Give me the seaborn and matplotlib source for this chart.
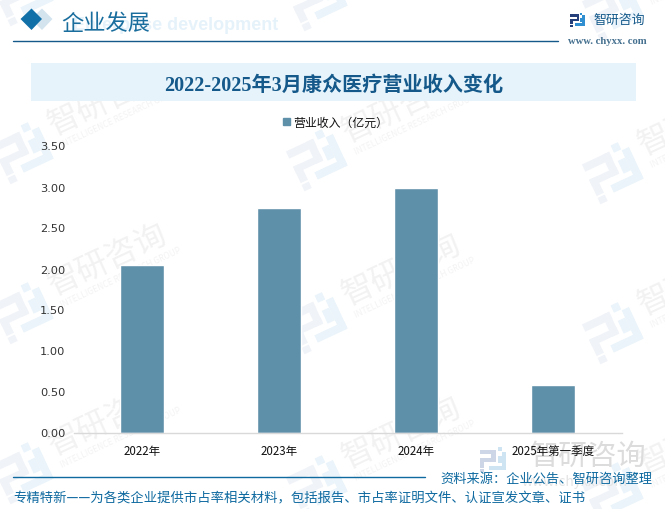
import matplotlib
matplotlib.use("Agg")
import matplotlib.pyplot as plt
import matplotlib.patches as mpatches
import numpy as np
import pandas as pd
import seaborn as sns

W, H = 665, 510

categories = ["2022年", "2023年", "2024年", "2025年第一季度"]
revenue = [2.04, 2.74, 2.98, 0.58]
y_ticks = [0, 0.5, 1.0, 1.5, 2.0, 2.5, 3.0, 3.5]
series_name = "营业收入（亿元）"
title = "2022-2025年3月康众医疗营业收入变化"
source = "资料来源：企业公告、智研咨询整理"
footer = "专精特新——为各类企业提供市占率相关材料，包括报告、市占率证明文件、认证宣发文章、证书"

BAR = "#5f90aa"
NAVY = "#14598a"
BLUE = "#0f6aa0"
CJK = ["Noto Sans CJK SC", "DejaVu Sans"]

# logo pieces as x, y, w, h on a 50 px square centred on 0
LOGO_LEFT = [(-25, -20, 30, 8), (-3, -20, 8, 24), (-25, -3, 30, 7), (-25, -3, 8, 18), (-25, 17, 8, 7)]
LOGO_RIGHT = [(9, -25, 8, 8), (17, -16, 8, 34), (-8, 11, 33, 8), (9, -8, 8, 14)]

sns.set_theme(style="white")
plt.rcParams["font.family"] = CJK

fig = plt.figure(figsize=(W / 100, H / 100), dpi=100, facecolor="white")

# page furniture, in pixel coordinates
bg = fig.add_axes([0, 0, 1, 1], zorder=0)
bg.set_xlim(0, W)
bg.set_ylim(H, 0)
bg.axis("off")


def logo(cx, cy, scale, angle, c_left, c_right, z=0.5):
    a = np.deg2rad(angle)
    rot = np.array([[np.cos(a), -np.sin(a)], [np.sin(a), np.cos(a)]])
    for pieces, col in [(LOGO_LEFT, c_left), (LOGO_RIGHT, c_right)]:
        for x, y, w, h in pieces:
            pts = np.array([[x, y], [x + w, y], [x + w, y + h], [x, y + h]]) * scale
            pts = pts @ rot.T + [cx, cy]
            bg.add_patch(mpatches.Polygon(pts, color=col, lw=0, zorder=z))


def watermark(x, y):
    bg.text(x, y, "智研咨询", fontsize=23, color="#f2f2f2", rotation=25, ha="center", va="center",
            zorder=0.5, clip_on=True)
    bg.text(x + 13, y + 18, "INTELLIGENCE RESEARCH GROUP", fontsize=6, color="#f3f3f3", rotation=25,
            ha="center", va="center", zorder=0.5, clip_on=True)


for lx, ly in [(23, 153), (317, 160), (613, 173), (23, 313), (317, 323), (613, 333),
               (23, 473), (317, 486), (613, 493), (23, -5), (317, 0), (613, 10)]:
    logo(lx, ly, 1.0, -25, "#f0f3f8", "#eaf4fa")
    watermark(lx + 85, ly - 53)

# header
bg.add_patch(mpatches.Polygon([[31, 20], [42, 9.5], [52.5, 20], [42, 31]], color="#d3e4ef", lw=0))
bg.add_patch(mpatches.Polygon([[20.5, 20], [31.5, 9.5], [42, 20], [31.5, 31]], color="#1170a8", lw=0))
bg.text(278, 25.5, "Enterprise development", fontsize=13, fontweight="bold", color="#e6f2fa",
        ha="right", va="center", family="Liberation Sans")
bg.text(61, 23, "企业发展", fontsize=16, color="#1a6e9e", ha="left", va="center")
bg.plot([13, 558], [41.5, 41.5], color=NAVY, lw=1)

logo(577.5, 21, 0.29, 0, "#243f7a", "#2f8fd0", z=2)
bg.text(593, 20, "智研咨询", fontsize=9.3, color=NAVY, ha="left", va="center")
bg.text(568, 41, "www. chyxx. com", fontsize=7.7, color="#45708f", ha="left", va="center",
        family="Liberation Serif", fontweight="bold")

# title band
bg.add_patch(mpatches.Rectangle((31, 64), 605, 38, color="#e6f3fb", lw=0))
bg.text(333.5, 86, title, fontsize=14.5, fontweight="bold", color=NAVY, ha="center", va="center",
        family=["Liberation Serif", "Noto Sans CJK SC"])

# footer, big site mark sits under the source line
logo(493, 461, 0.52, 0, "#cdd6e6", "#cfe4f3", z=1)
bg.text(588, 457, "智研咨询", fontsize=21, color="#dcdcdc", ha="center", va="center", zorder=1)
bg.text(575, 482, "www.chyxx.com", fontsize=10, color="#e4e4e4", ha="center", va="center", zorder=1)
bg.plot([13, 425], [478, 478], color=BLUE, lw=1)
bg.text(440, 479, source, fontsize=9.5, color=BLUE, ha="left", va="center", zorder=3)
bg.text(13, 498, footer, fontsize=9.6, color=BLUE, ha="left", va="center", zorder=3)

# chart
ax = fig.add_axes([73.5 / W, 1 - 433.5 / H, 548 / W, 287 / H], zorder=1)
ax.patch.set_alpha(0)
df = pd.DataFrame({"category": categories, "revenue": revenue})
sns.barplot(data=df, x="category", y="revenue", color=BAR, saturation=1, width=0.315, ax=ax)
ax.set_xlim(-0.5, 3.5)
ax.set_ylim(0, 3.5)
ax.set_yticks(y_ticks)
ax.set_yticklabels([f"{v:.2f}" for v in y_ticks], fontsize=8.2, color="#333333",
                   family="DejaVu Sans")
ax.tick_params(axis="x", length=0, pad=8, labelsize=8.3, labelcolor="#111111")
ax.tick_params(axis="y", length=0, pad=6)
ax.set_xlabel("")
ax.set_ylabel("")
for side in ["top", "right", "left"]:
    ax.spines[side].set_visible(False)
ax.spines["bottom"].set_color("#d9d9d9")
ax.spines["bottom"].set_linewidth(1)

# legend
handle = mpatches.Patch(color=BAR, label=series_name)
fig.legend(handles=[handle], loc="center", bbox_to_anchor=(335.5 / W, 1 - 123 / H), frameon=False,
           fontsize=8.6, handlelength=0.55, handleheight=0.55, handletextpad=0.25, labelcolor="#111111")

fig.savefig("out.png", dpi=100)
